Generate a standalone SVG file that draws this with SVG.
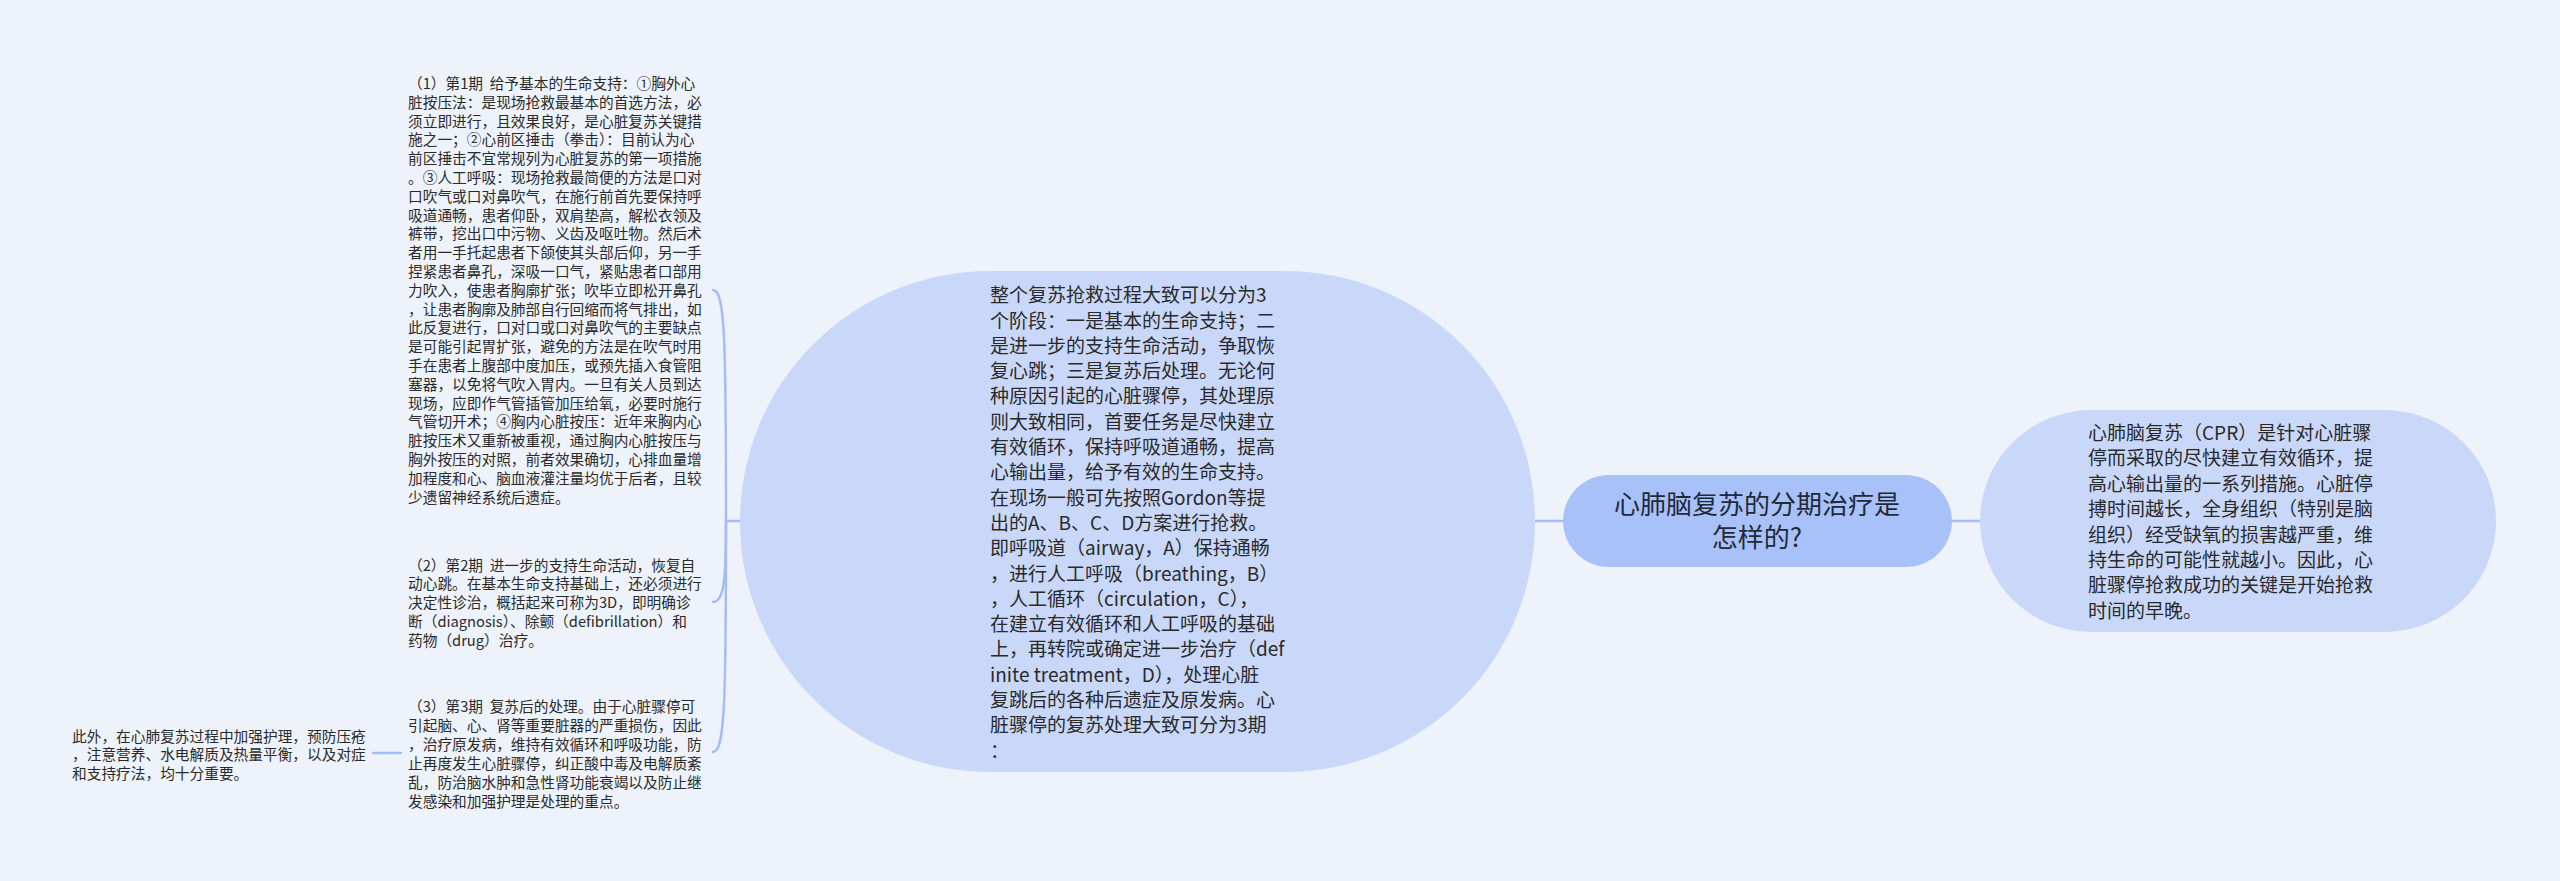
<svg xmlns="http://www.w3.org/2000/svg" width="2560" height="881" viewBox="0 0 2560 881">
<style>
.bg{fill:#eef3fb}
.conn{fill:none;stroke:#a6bdf1;stroke-width:2.5;stroke-linecap:round}
.root{fill:#a9c1f9}
.sub{fill:#c9d8f8}
.t{font-family:"Noto Sans CJK SC","Liberation Sans",sans-serif;fill:#2a2a2a}
.tr{font-size:26px;fill:#1e2a3a}
.tm{font-size:19px}
.tl{font-size:14.7px}
</style>
<rect class="bg" x="0" y="0" width="2560" height="881"/>
<g id="connectors">
<path class="conn" d="M1535 521 L1563 521"/>
<path class="conn" d="M1952 521 L1980 521"/>
<path class="conn" d="M740 521 L726 521"/>
<path class="conn" d="M726 521 C726 340 725 290 713 290"/>
<path class="conn" d="M726 521 C726 580 724 602 713 602"/>
<path class="conn" d="M726 521 C726 700 725 752 713 752"/>
<path class="conn" d="M373 753 L401 753"/>
</g>
<g id="root-node">
<rect class="root" x="1563" y="475" width="389" height="92" rx="46"/>
<text class="t tr" text-anchor="middle"><tspan x="1757" y="514">心肺脑复苏的分期治疗是</tspan><tspan x="1757" y="547">怎样的?</tspan></text>
</g>
<g id="node-definition">
<rect class="sub" x="1980" y="410" width="516" height="222" rx="111"/>
<text class="t tm">
<tspan x="2088" y="440">心肺脑复苏（CPR）是针对心脏骤</tspan>
<tspan x="2088" y="465.4">停而采取的尽快建立有效循环，提</tspan>
<tspan x="2088" y="490.8">高心输出量的一系列措施。心脏停</tspan>
<tspan x="2088" y="516.2">搏时间越长，全身组织（特别是脑</tspan>
<tspan x="2088" y="541.6">组织）经受缺氧的损害越严重，维</tspan>
<tspan x="2088" y="567">持生命的可能性就越小。因此，心</tspan>
<tspan x="2088" y="592.4">脏骤停抢救成功的关键是开始抢救</tspan>
<tspan x="2088" y="617.8">时间的早晚。</tspan>
</text>
</g>
<g id="node-overview">
<rect class="sub" x="740" y="271" width="795" height="501" rx="250"/>
<text class="t tm">
<tspan x="990" y="302.2">整个复苏抢救过程大致可以分为3</tspan>
<tspan x="990" y="327.5">个阶段：一是基本的生命支持；二</tspan>
<tspan x="990" y="352.8">是进一步的支持生命活动，争取恢</tspan>
<tspan x="990" y="378.1">复心跳；三是复苏后处理。无论何</tspan>
<tspan x="990" y="403.4">种原因引起的心脏骤停，其处理原</tspan>
<tspan x="990" y="428.7">则大致相同，首要任务是尽快建立</tspan>
<tspan x="990" y="454">有效循环，保持呼吸道通畅，提高</tspan>
<tspan x="990" y="479.3">心输出量，给予有效的生命支持。</tspan>
<tspan x="990" y="504.6">在现场一般可先按照Gordon等提</tspan>
<tspan x="990" y="529.9">出的A、B、C、D方案进行抢救。</tspan>
<tspan x="990" y="555.2">即呼吸道（airway，A）保持通畅</tspan>
<tspan x="990" y="580.5">，进行人工呼吸（breathing，B）</tspan>
<tspan x="990" y="605.8">，人工循环（circulation，C），</tspan>
<tspan x="990" y="631.1">在建立有效循环和人工呼吸的基础</tspan>
<tspan x="990" y="656.4">上，再转院或确定进一步治疗（def</tspan>
<tspan x="990" y="681.7">inite treatment，D），处理心脏</tspan>
<tspan x="990" y="707">复跳后的各种后遗症及原发病。心</tspan>
<tspan x="990" y="732.3">脏骤停的复苏处理大致可分为3期</tspan>
<tspan x="990" y="757.6">：</tspan>
</text>
</g>
<g id="node-stage1">
<text class="t tl" xml:space="preserve"><tspan x="408" y="88.9">（1）第1期  给予基本的生命支持：①胸外心</tspan><tspan x="408" y="107.7">脏按压法：是现场抢救最基本的首选方法，必</tspan><tspan x="408" y="126.5">须立即进行，且效果良好，是心脏复苏关键措</tspan><tspan x="408" y="145.3">施之一；②心前区捶击（拳击）：目前认为心</tspan><tspan x="408" y="164.1">前区捶击不宜常规列为心脏复苏的第一项措施</tspan><tspan x="408" y="182.9">。③人工呼吸：现场抢救最简便的方法是口对</tspan><tspan x="408" y="201.7">口吹气或口对鼻吹气，在施行前首先要保持呼</tspan><tspan x="408" y="220.5">吸道通畅，患者仰卧，双肩垫高，解松衣领及</tspan><tspan x="408" y="239.3">裤带，挖出口中污物、义齿及呕吐物。然后术</tspan><tspan x="408" y="258.1">者用一手托起患者下颌使其头部后仰，另一手</tspan><tspan x="408" y="276.9">捏紧患者鼻孔，深吸一口气，紧贴患者口部用</tspan><tspan x="408" y="295.7">力吹入，使患者胸廓扩张；吹毕立即松开鼻孔</tspan><tspan x="408" y="314.5">，让患者胸廓及肺部自行回缩而将气排出，如</tspan><tspan x="408" y="333.3">此反复进行，口对口或口对鼻吹气的主要缺点</tspan><tspan x="408" y="352.1">是可能引起胃扩张，避免的方法是在吹气时用</tspan><tspan x="408" y="370.9">手在患者上腹部中度加压，或预先插入食管阻</tspan><tspan x="408" y="389.7">塞器，以免将气吹入胃内。一旦有关人员到达</tspan><tspan x="408" y="408.5">现场，应即作气管插管加压给氧，必要时施行</tspan><tspan x="408" y="427.3">气管切开术；④胸内心脏按压：近年来胸内心</tspan><tspan x="408" y="446.1">脏按压术又重新被重视，通过胸内心脏按压与</tspan><tspan x="408" y="464.9">胸外按压的对照，前者效果确切，心排血量增</tspan><tspan x="408" y="483.7">加程度和心、脑血液灌注量均优于后者，且较</tspan><tspan x="408" y="502.5">少遗留神经系统后遗症。</tspan></text>
</g>
<g id="node-stage2">
<text class="t tl" xml:space="preserve"><tspan x="408" y="570.6">（2）第2期  进一步的支持生命活动，恢复自</tspan><tspan x="408" y="589.4">动心跳。在基本生命支持基础上，还必须进行</tspan><tspan x="408" y="608.2">决定性诊治，概括起来可称为3D，即明确诊</tspan><tspan x="408" y="627">断（diagnosis）、除颤（defibrillation）和</tspan><tspan x="408" y="645.8">药物（drug）治疗。</tspan></text>
</g>
<g id="node-stage3">
<text class="t tl" xml:space="preserve"><tspan x="408" y="712.3">（3）第3期  复苏后的处理。由于心脏骤停可</tspan><tspan x="408" y="731.3">引起脑、心、肾等重要脏器的严重损伤，因此</tspan><tspan x="408" y="750.3">，治疗原发病，维持有效循环和呼吸功能，防</tspan><tspan x="408" y="769.3">止再度发生心脏骤停，纠正酸中毒及电解质紊</tspan><tspan x="408" y="788.3">乱，防治脑水肿和急性肾功能衰竭以及防止继</tspan><tspan x="408" y="807.3">发感染和加强护理是处理的重点。</tspan></text>
</g>
<g id="node-care">
<text class="t tl"><tspan x="72" y="741.6">此外，在心肺复苏过程中加强护理，预防压疮</tspan><tspan x="72" y="760.3">，注意营养、水电解质及热量平衡，以及对症</tspan><tspan x="72" y="779">和支持疗法，均十分重要。</tspan></text>
</g>
</svg>
